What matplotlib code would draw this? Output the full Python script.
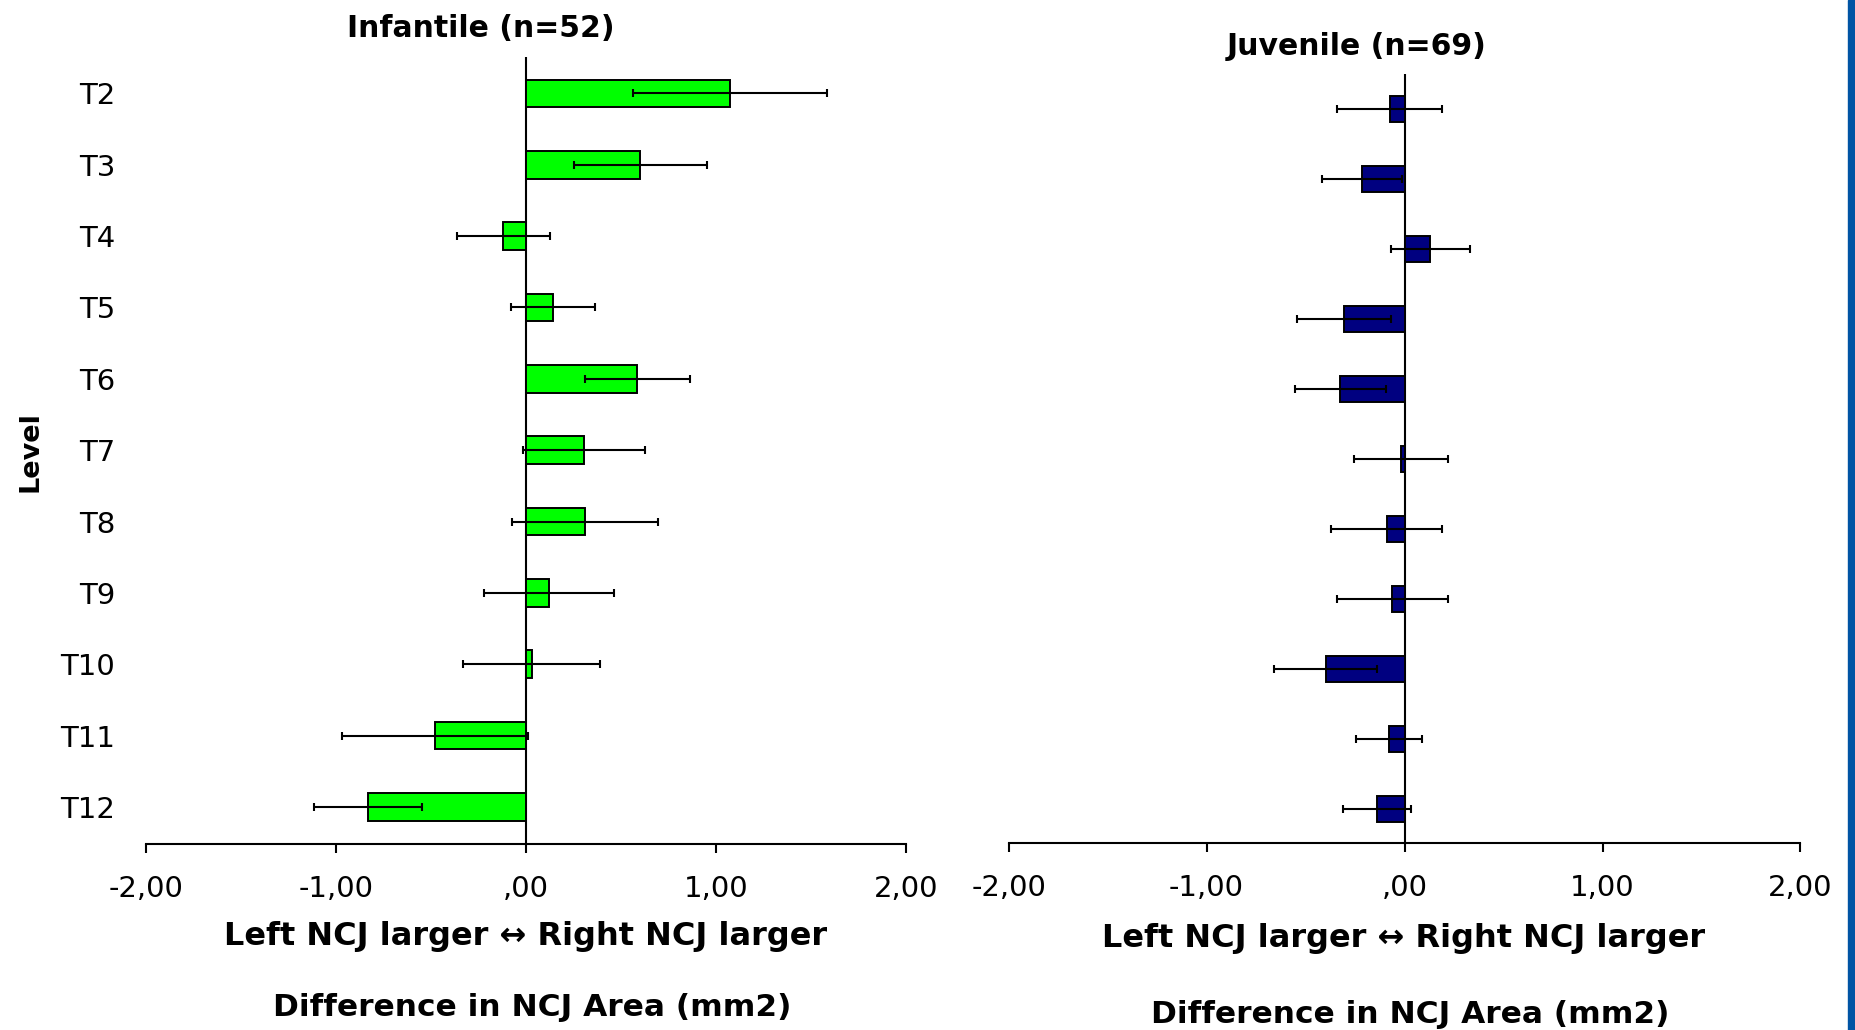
import matplotlib
matplotlib.use("Agg")
import matplotlib.pyplot as plt
import numpy as np
from matplotlib.patches import Rectangle

levels = ["T2", "T3", "T4", "T5", "T6", "T7", "T8", "T9", "T10", "T11", "T12"]
inf_mean = [1.07, 0.60, -0.12, 0.14, 0.585, 0.305, 0.31, 0.12, 0.03, -0.48, -0.83]
inf_err = [0.51, 0.35, 0.245, 0.22, 0.275, 0.32, 0.385, 0.34, 0.36, 0.49, 0.285]
juv_mean = [-0.075, -0.215, 0.13, -0.305, -0.325, -0.02, -0.09, -0.062, -0.397, -0.078, -0.14]
juv_err = [0.265, 0.20, 0.20, 0.236, 0.23, 0.237, 0.28, 0.28, 0.26, 0.167, 0.173]
xticks = [-2, -1, 0, 1, 2]
xticklabels = ["-2,00", "-1,00", ",00", "1,00", "2,00"]
titles = ["Infantile (n=52)", "Juvenile (n=69)"]
xlabel1 = "Left NCJ larger \u2194 Right NCJ larger"
xlabel2 = "Difference in NCJ Area (mm2)"

plt.rcParams['font.family'] = ['DejaVu Sans']
W, H = 1856, 1030
fig = plt.figure(figsize=(W / 100, H / 100), dpi=100)

def fx(px):
    return px / W

def fy(py):
    return 1 - py / H

ax1 = fig.add_axes([fx(145.6), fy(844.0), fx(906.5) - fx(145.6), (844.0 - 56.7) / H])
ax2 = fig.add_axes([fx(1008.6), fy(843.0), fx(1800.5) - fx(1008.6), (843.0 - 73.5) / H])

y = np.arange(len(levels))
panels = [
    (ax1, inf_mean, inf_err, "#00ff00", 0.385, (10.52, -0.515), True),
    (ax2, juv_mean, juv_err, "#000080", 0.37, (10.49, -0.51), False),
]
for ax, m, e, col, h, yl, show_cats in panels:
    ax.axvline(0, color="black", lw=1.5, zorder=1)
    ax.barh(y, m, height=h, color=col, edgecolor="black", linewidth=1.4, zorder=2,
            xerr=e, error_kw=dict(ecolor="black", elinewidth=1.5, capsize=3.2, capthick=1.5, zorder=3))
    ax.set_xlim(-2, 2)
    ax.set_ylim(*yl)
    ax.set_xticks(xticks)
    ax.set_xticklabels(xticklabels)
    for s in ["top", "right", "left"]:
        ax.spines[s].set_visible(False)
    ax.spines["bottom"].set_linewidth(1.5)
    ax.tick_params(axis="x", direction="out", length=6.5, width=1.5, labelsize=21, pad=15.5)
    ax.set_yticks(y)
    if show_cats:
        ax.set_yticklabels(levels)
        ax.tick_params(axis="y", length=0, labelsize=21, pad=22)
    else:
        ax.set_yticklabels([])
        ax.tick_params(axis="y", length=0)

fig.text(fx(480.6), fy(36.7), titles[0], ha="center", va="baseline", fontsize=21.5, fontweight="bold")
fig.text(fx(1356.5), fy(55), titles[1], ha="center", va="baseline", fontsize=21.5, fontweight="bold")
fig.text(fx(30), fy(452), "Level", rotation=90, ha="center", va="center", fontsize=19.5, fontweight="bold")

fig.text(fx(526), fy(945), xlabel1, ha="center", va="baseline", fontsize=23, fontweight="bold")
fig.text(fx(1403.5), fy(947), xlabel1, ha="center", va="baseline", fontsize=23, fontweight="bold")
fig.text(fx(532), fy(1016.5), xlabel2, ha="center", va="baseline", fontsize=22.5, fontweight="bold")
fig.text(fx(1410), fy(1023), xlabel2, ha="center", va="baseline", fontsize=22.5, fontweight="bold")

fig.patches.append(Rectangle((fx(1847.7), 0), 1 - fx(1847.7), 1, transform=fig.transFigure,
                             color="#0054a4", zorder=0))

fig.savefig("out.png", dpi=100)
